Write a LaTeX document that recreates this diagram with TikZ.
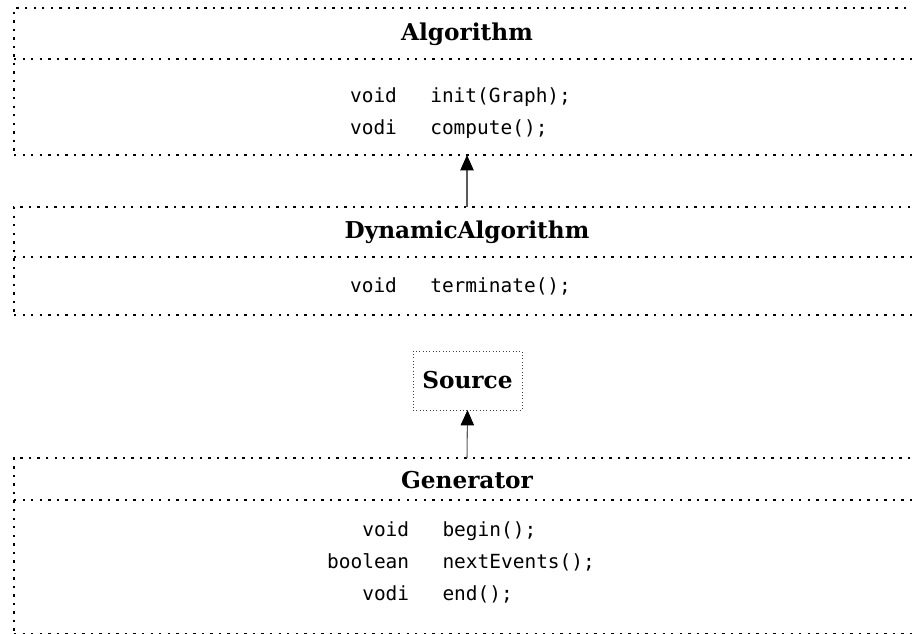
\documentclass[tikz,border=0pt]{standalone}
\usepackage{fontspec}
\usepackage{tikz}
\usetikzlibrary{arrows.meta,positioning}
\newfontfamily\titlefont{DejaVu Serif}
\newfontfamily\codefont{DejaVu Sans Mono}
\definecolor{frame}{RGB}{0,0,0}
\definecolor{wire}{RGB}{90,90,90}
\newcommand{\members}[1]{{\renewcommand{\arraystretch}{1}%
  \begin{tabular}{@{}r@{\hspace{25pt}}l@{}}#1\end{tabular}}}

\begin{document}
\begin{tikzpicture}[x=0.75pt, y=-0.75pt,
  classbox/.style={draw=frame, line width=1.8pt, dash pattern=on 1.8pt off 4.6pt,
    minimum width=679.5pt, inner sep=0pt, outer sep=0pt},
  classline/.style={draw=frame, line width=1.8pt, dash pattern=on 1.8pt off 4.6pt},
  iface/.style={draw=black!75, line width=0.6pt, dash pattern=on 0.6pt off 1.9pt,
    minimum width=81.75pt, minimum height=44.25pt, inner sep=0pt, outer sep=0pt},
  classname/.style={font=\titlefont\bfseries\fontsize{17.4}{20}\selectfont},
  body/.style={font=\codefont\fontsize{14.6}{24}\selectfont, inner sep=0pt},
  inherit/.style={draw=wire, line width=0.8pt, -{Triangle[width=10pt,length=11.5pt,color=black]}}]
\useasboundingbox (0,0) rectangle (912,633);
% ---- Algorithm
\node[classbox, minimum height=110.25pt] (algo) at (467,81.5) {};
\coordinate (algoDiv) at (467,59);
\draw[classline] (algo.west |- algoDiv) -- (algo.east |- algoDiv);
\node[classname] (algoName) at (467,34) {Algorithm};
\node[body] (algoBody) at (460.5,112)
  {\members{void & init(Graph);\\ vodi & compute();}};
% ---- DynamicAlgorithm
\node[classbox, minimum height=81pt] (dynalgo) at (467,261) {};
\coordinate (dynDiv) at (467,257);
\draw[classline] (dynalgo.west |- dynDiv) -- (dynalgo.east |- dynDiv);
\node[classname] (dynName) at (467,232) {DynamicAlgorithm};
\node[body] (dynBody) at (460.5,286) {\members{void & terminate();}};
% ---- Source
\node[iface] (src) at (467.5,380.5) {};
\node[classname] (srcName) at (src.center) {Source};
% ---- Generator
\node[classbox, minimum height=132.4pt] (gen) at (467,546.3) {};
\coordinate (genDiv) at (467,500);
\draw[classline] (gen.west |- genDiv) -- (gen.east |- genDiv);
\node[classname] (genName) at (467,480) {Generator};
\node[body] (genBody) at (461,562)
  {\members{void & begin();\\ boolean & nextEvents();\\ vodi & end();}};
% ---- inheritance
\draw[inherit] (dynalgo.north) -- (algo.south);
\draw[inherit] (gen.north) -- (src.south);
\end{tikzpicture}
\end{document}
